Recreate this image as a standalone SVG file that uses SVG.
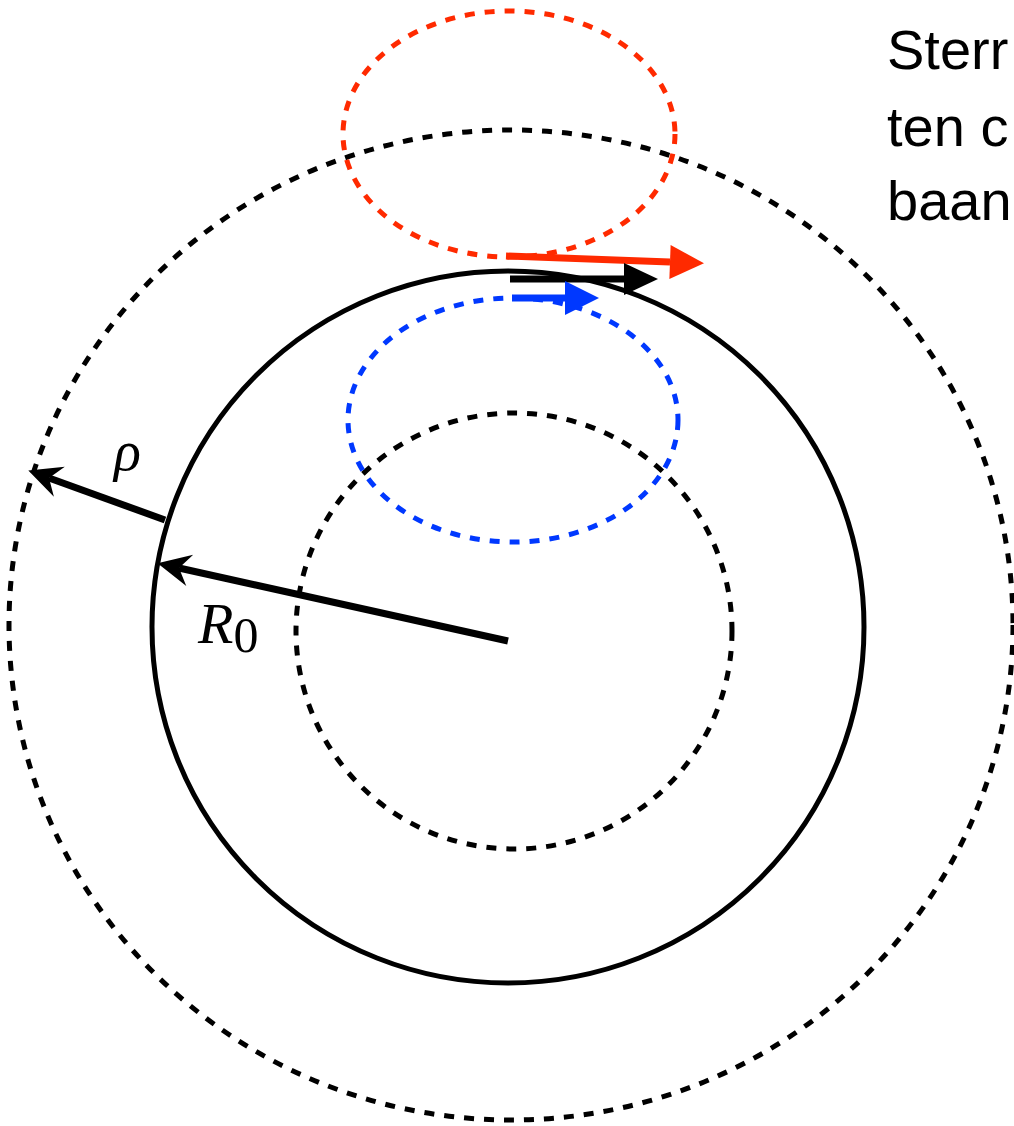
<svg xmlns="http://www.w3.org/2000/svg" width="1014" height="1126" viewBox="0 0 1014 1126">
<style>
.dash{fill:none;stroke-width:5;stroke-dasharray:10 10}
.blk{stroke:#000}
.red{stroke:#FF2A00}
.blu{stroke:#0038FF}
.shaft{fill:none;stroke-width:7}
.lbl{font-family:"Liberation Sans","Open Sans",sans-serif;font-size:56px;fill:#000}
.math{font-family:"Liberation Serif","DejaVu Serif",serif;fill:#000}
</style>
<defs>
<marker id="triR" markerUnits="userSpaceOnUse" markerWidth="40" markerHeight="40" viewBox="-2 -20 40 40" refX="0" refY="0" orient="auto"><path d="M0,-17 L34,0 L0,17 Z" fill="#FF2A00"/></marker>
<marker id="triK" markerUnits="userSpaceOnUse" markerWidth="40" markerHeight="40" viewBox="-2 -20 40 40" refX="0" refY="0" orient="auto"><path d="M0,-16 L34,0 L0,16 Z" fill="#000"/></marker>
<marker id="triB" markerUnits="userSpaceOnUse" markerWidth="40" markerHeight="40" viewBox="-2 -20 40 40" refX="0" refY="0" orient="auto"><path d="M0,-17 L34,0 L0,17 Z" fill="#0038FF"/></marker>
<marker id="stealth" markerUnits="userSpaceOnUse" markerWidth="40" markerHeight="40" viewBox="-14 -20 40 40" refX="0" refY="0" orient="auto"><path d="M-11,-16 L22,0 L-11,16 L0,0 Z" fill="#000"/></marker>
</defs>
<g id="orbits">
<ellipse id="outer-orbit" class="dash blk" cx="511" cy="625" rx="502" ry="495"/>
<circle id="main-orbit" cx="508" cy="627" r="356" fill="none" stroke="#000" stroke-width="5"/>
<circle id="inner-orbit" class="dash blk" cx="514" cy="631" r="218"/>
<ellipse id="red-epicycle" class="dash red" cx="509" cy="134" rx="166" ry="123"/>
<ellipse id="blue-epicycle" class="dash blu" cx="513" cy="420" rx="165" ry="122"/>
</g>
<g id="connectors">
<line class="shaft red" x1="506" y1="256" x2="670" y2="262" marker-end="url(#triR)"/>
<line class="shaft blk" x1="510" y1="279" x2="624" y2="279" marker-end="url(#triK)"/>
<line class="shaft blu" x1="512" y1="298" x2="565" y2="298" marker-end="url(#triB)"/>
<line class="shaft blk" x1="508" y1="641" x2="179" y2="568" stroke-width="6.5" marker-end="url(#stealth)"/>
<line class="shaft blk" x1="165" y1="520" x2="49" y2="478" stroke-width="6.5" marker-end="url(#stealth)"/>
</g>
<g id="labels">
<text class="math" x="114" y="470" font-size="56" font-style="italic">ρ</text>
<text class="math" x="198" y="643" font-size="58"><tspan font-style="italic">R</tspan><tspan font-size="50" dy="9">0</tspan></text>
<text class="lbl" x="887" y="69">Sterr</text>
<text class="lbl" x="887" y="146">ten c</text>
<text class="lbl" x="887" y="220">baan</text>
</g>
</svg>
